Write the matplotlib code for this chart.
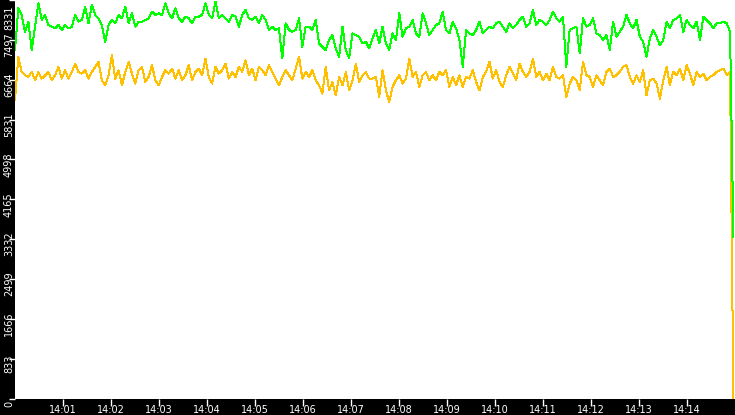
import numpy as np
import matplotlib
matplotlib.use("Agg")
import matplotlib.pyplot as plt
from matplotlib.transforms import ScaledTranslation

# values, one every ~3 px
green = [
    7283, 8158, 8018, 7668, 7878, 7283, 7773, 8263, 7913, 8018, 7808, 7773, 7738, 7808, 7703, 7808,
    7738, 7773, 8018, 7878, 7913, 8193, 7843, 8228, 8018, 7948, 7808, 7458, 7808, 7913, 7843, 8018,
    7948, 8193, 7843, 8053, 7773, 7878, 7878, 7913, 7948, 8088, 8018, 8053, 8018, 8263, 8053, 7948,
    8158, 7948, 7878, 7983, 7948, 7843,
    7983, 7983, 8018, 8263, 8018, 7948, 8298, 7948, 8018, 7948, 7878, 8018, 7983, 7773, 8018, 8123,
    7948, 7913, 7983, 7843, 8018, 7913, 7703, 7773, 7703, 7738, 7108, 7843, 7703, 7668, 7703, 7948,
    7353, 7773, 7773, 7703, 7913, 7423, 7353, 7283, 7493, 7598, 7318, 7143, 7773, 7283, 7108, 7633,
    7598, 7563, 7423, 7458, 7318,
    7528, 7703, 7423, 7773, 7423, 7283, 7633, 7493, 8053, 7563, 7738, 7773, 7913, 7633, 7563, 8053,
    7843, 7598, 7703, 7808, 7843, 8088, 7703, 7633, 7878, 7738, 7493, 6933, 7703, 7633, 7598, 7703,
    7878, 7633, 7703, 7773, 7738, 7843, 7878, 7773, 7668, 7843, 7738, 7808, 7913, 7983, 7773, 7843,
    8123, 7808, 7913, 7878,
    7808, 7913, 8088, 7948, 7878, 7983, 6933, 7703, 7738, 7773, 7213, 7948, 7773, 7808, 7948, 7633,
    7598, 7493, 7598, 7283, 7878, 7563, 7668, 7773, 8018, 7843, 7738, 7913, 7563, 7458, 7143, 7528,
    7703, 7563, 7388, 7493, 7878, 7738, 7913, 7948, 8018, 7668, 7913, 7808, 7738, 7878, 7493, 7983,
    7913, 7843, 7738, 7843, 7843, 7878, 7843, 7668, 3380,
]

orange = [
    6233, 7143, 6828, 6758, 6723, 6828, 6653, 6828, 6688, 6758, 6828, 6653, 6758, 6933, 6688, 6863,
    6688, 6828, 7003, 6828, 6793, 6863, 6688, 6828, 6933, 7038, 6653, 6548, 6758, 7178, 6688, 6863,
    6548, 6828, 7038, 6793, 6583, 6863, 6933, 6618, 6723, 6968, 6653, 6548, 6723, 6863, 6793, 6898,
    6688, 6863, 6653, 6758, 6968, 6653,
    6828, 6898, 6758, 7108, 6723, 6583, 6933, 6793, 6863, 7003, 6688, 6828, 6723, 6933, 6828, 7073,
    6758, 6898, 6653, 6933, 6863, 6758, 6968, 6828, 6688, 6548, 6723, 6863, 6758, 6653, 6898, 7143,
    6688, 6828, 6723, 6863, 6653, 6548, 6373, 6933, 6443, 6618, 6338, 6723, 6548, 6828, 6443, 6653,
    7003, 6618, 6758, 6828, 6688,
    6688, 6723, 6303, 6863, 6443, 6198, 6513, 6653, 6758, 6583, 6688, 7108, 6723, 6828, 6513, 6758,
    6828, 6653, 6758, 6653, 6828, 6758, 6863, 6513, 6723, 6548, 6758, 6513, 6723, 6688, 6863, 6618,
    6443, 6723, 6828, 7038, 6688, 6863, 6618, 6513, 6758, 6933, 6793, 6653, 7003, 6828, 6723, 6828,
    7108, 6723, 6828, 6653,
    6793, 6653, 6933, 6723, 6688, 6758, 6303, 6583, 6723, 6653, 6443, 7038, 6758, 6723, 6513, 6758,
    6653, 6548, 6828, 6898, 6723, 6758, 6828, 6933, 6968, 6723, 6583, 6758, 6618, 6863, 6338, 6653,
    6688, 6583, 6268, 6653, 6933, 6548, 6828, 6758, 6898, 6653, 6968, 6793, 6548, 6828, 6723, 6793,
    6653, 6723, 6758, 6828, 6863, 6898, 6758, 6828, 0,
]

y_ticks = [0, 833, 1666, 2499, 3332, 4165, 4998, 5831, 6664, 7497, 8331]
x_ticks = [60, 120, 180, 240, 300, 360, 420, 480, 540, 600, 660, 720, 780, 840]
x_labels = ['14:01', '14:02', '14:03', '14:04', '14:05', '14:06', '14:07',
            '14:08', '14:09', '14:10', '14:11', '14:12', '14:13', '14:14']

secs = np.linspace(0, 898, len(green))

fig = plt.figure(figsize=(7.35, 4.15), dpi=100, facecolor='black')
ax = fig.add_axes([15 / 735, 16.5 / 415, 720 / 735, 398.5 / 415])
ax.set_facecolor('white')

ax.plot(secs, orange, color='#ffc000', lw=0.72, antialiased=False)
ax.plot(secs, green, color='#00ff00', lw=0.72, antialiased=False)

ax.set_xlim(0, 900)
ax.set_ylim(0, 8331)
for s in ax.spines.values():
    s.set_visible(False)

ax.set_xticks(x_ticks)
ax.set_xticklabels([])
ax.tick_params(axis='x', colors='white', length=5, width=1)

# x labels drawn by hand so they fit in the thin black strip
xshift = ScaledTranslation(0, -0.145, fig.dpi_scale_trans)
for t, lab in zip(x_ticks, x_labels):
    ax.text(t, 0, lab, transform=ax.get_xaxis_transform() + xshift, color='white',
            fontsize=7, ha='center', va='baseline')

ax.set_yticks(y_ticks)
ax.set_yticklabels([])
ax.tick_params(axis='y', colors='white', length=4, width=1)

# y labels, rotated, sitting a little below their ticks
shift = ScaledTranslation(0, -5 / 100, fig.dpi_scale_trans)
for v in y_ticks:
    if v == y_ticks[-1]:
        ax.text(-0.0085, 0.987, str(v), transform=ax.transAxes, rotation=90,
                color='white', fontsize=7, ha='center', va='top')
    else:
        ax.text(-0.0085, v, str(v), transform=ax.get_yaxis_transform() + shift,
                rotation=90, color='white', fontsize=7, ha='center', va='center')

fig.savefig('out.png', dpi=100, facecolor='black')
